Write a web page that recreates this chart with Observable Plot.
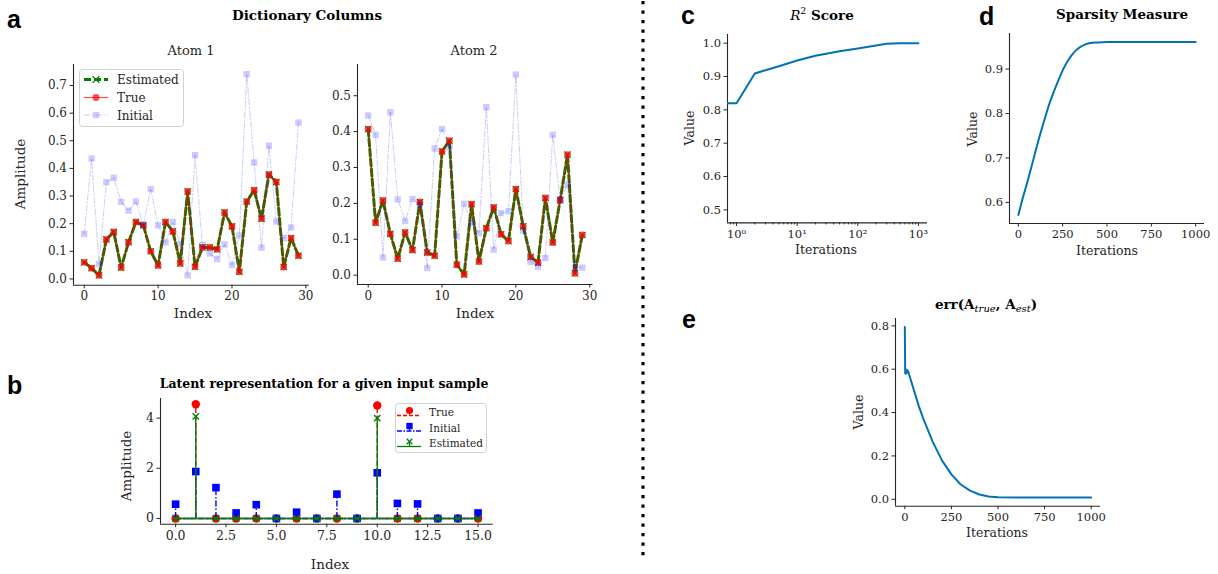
<!DOCTYPE html>
<html><head><meta charset="utf-8">
<script src="https://cdn.jsdelivr.net/npm/d3@7"></script>
<script src="https://cdn.jsdelivr.net/npm/@observablehq/plot@0.6"></script>
<style>
html,body{margin:0;padding:0;background:#fff;}
#root{position:relative;width:1218px;height:574px;overflow:hidden;background:#fff;}
#root svg{position:absolute;}
</style></head><body><div id="root"></div>
<script>
// ---------- DATA ----------
const atomIdx = [0,1,2,3,4,5,6,7,8,9,10,11,12,13,14,15,16,17,18,19,20,21,22,23,24,25,26,27,28,29];
const atom1True = [0.060,0.039,0.013,0.143,0.170,0.041,0.133,0.206,0.194,0.100,0.049,0.206,0.172,0.056,0.317,0.044,0.114,0.114,0.107,0.241,0.190,0.026,0.280,0.321,0.218,0.378,0.351,0.043,0.148,0.084];
const atom1Est  = [0.060,0.039,0.013,0.143,0.170,0.041,0.133,0.206,0.194,0.100,0.049,0.206,0.172,0.056,0.317,0.044,0.114,0.114,0.107,0.241,0.190,0.026,0.280,0.321,0.218,0.378,0.351,0.043,0.148,0.084];
const atom1Init = [0.163,0.436,0.053,0.350,0.366,0.279,0.247,0.280,0.197,0.325,0.194,0.132,0.206,0.127,0.013,0.448,0.123,0.092,0.072,0.125,0.050,0.157,0.741,0.421,0.113,0.482,0.208,0.147,0.186,0.566];
const atom2True = [0.407,0.146,0.208,0.115,0.046,0.119,0.070,0.204,0.063,0.054,0.345,0.375,0.029,0.002,0.198,0.038,0.131,0.189,0.114,0.095,0.240,0.136,0.051,0.035,0.215,0.091,0.209,0.336,0.005,0.112];
const atom2Est  = [0.407,0.146,0.208,0.115,0.046,0.119,0.070,0.204,0.063,0.054,0.345,0.375,0.029,0.002,0.198,0.038,0.131,0.189,0.114,0.095,0.240,0.136,0.051,0.035,0.215,0.091,0.209,0.336,0.005,0.112];
const atom2Init = [0.445,0.391,0.049,0.454,0.211,0.151,0.212,0.196,0.020,0.353,0.407,0.356,0.108,0.199,0.145,0.117,0.468,0.071,0.173,0.178,0.559,0.124,0.037,0.023,0.048,0.391,0.212,0.252,0.021,0.021];

const latentIdx  = [0,1,2,3,4,5,6,7,8,9,10,11,12,13,14,15];
const latentTrue = [0,4.55,0,0,0,0,0,0,0,0,4.50,0,0,0,0,0];
const latentInit = [0.57,1.87,1.23,0.22,0.55,0,0.25,0,0.97,0,1.82,0.60,0.58,0,0,0.22];
const latentEst  = [0,4.07,0,0,0,0,0,0,0,0,4.00,0,0,0,0,0];

const r2Iter  = [0,1,2,3,5,10,20,50,100,200,300,500,1000];
const r2Value = [0.820,0.820,0.909,0.919,0.931,0.948,0.962,0.976,0.984,0.993,0.998,1.000,1.000];

const spIter  = [0,25,50,75,100,125,150,175,200,225,250,275,300,325,350,375,400,450,500,750,1000];
const spValue = [0.572,0.610,0.645,0.682,0.720,0.756,0.790,0.822,0.849,0.874,0.897,0.916,0.931,0.942,0.950,0.955,0.958,0.960,0.961,0.961,0.961];

const errIter  = [0,2,5,9,14,20,25,50,75,100,150,200,250,300,350,400,450,500,600,1000];
const errValue = [0.795,0.580,0.600,0.580,0.595,0.585,0.570,0.500,0.430,0.370,0.265,0.178,0.115,0.068,0.040,0.022,0.013,0.009,0.008,0.008];

const atomXTicks = [0,10,20,30];
const atom1YTicks = [0,0.1,0.2,0.3,0.4,0.5,0.6,0.7];
const atom2YTicks = [0,0.1,0.2,0.3,0.4,0.5];
const latentXTicks = [0,2.5,5,7.5,10,12.5,15];
const latentYTicks = [0,2,4];
const r2XTicks = [1,10,100,1000];
const r2XTickLabels = ["10⁰","10¹","10²","10³"];
const r2XMinor = [0.8,0.9,2,3,4,5,6,7,8,9,20,30,40,50,60,70,80,90,200,300,400,500,600,700,800,900];
const r2YTicks = [0.5,0.6,0.7,0.8,0.9,1.0];
const iterTicks = [0,250,500,750,1000];
const spYTicks = [0.6,0.7,0.8,0.9];
const errYTicks = [0,0.2,0.4,0.6,0.8];

// ---------- STYLE ----------
const SERIF = "DejaVu Serif";
const SANS = "Liberation Sans";
const INK = "#262626";
const LINE = "#0173b2";
const root = document.getElementById("root");

function zip(xs, ys){ return xs.map((x,i)=>({x, y: ys[i]})); }

function panel({l, r, t, b, x, y, marks, fs}) {
  const ml = 50, mr = 14, mt = 10, mb = 30;
  const svg = Plot.plot({
    width: (r - l) + ml + mr, height: (b - t) + mt + mb,
    marginLeft: ml, marginRight: mr, marginTop: mt, marginBottom: mb,
    x, y,
    style: {fontFamily: SERIF, fontSize: fs + "px", color: INK, background: "none", overflow: "visible"},
    marks: [
      Plot.ruleX([x.domain[0]], {stroke: INK, strokeWidth: 1.1}),
      Plot.ruleY([y.domain[0]], {stroke: INK, strokeWidth: 1.1}),
      ...marks
    ]
  });
  svg.style.left = (l - ml) + "px";
  svg.style.top = (t - mt) + "px";
  root.appendChild(svg);
}

function atomMarks(tr, est, init) {
  return [
    Plot.line(est, {x: "x", y: "y", stroke: "#008000", strokeWidth: 3, strokeDasharray: "7,3"}),
    Plot.dot(est, {x: "x", y: "y", symbol: "times", stroke: "#008000", strokeWidth: 1.1, r: 3}),
    Plot.line(tr, {x: "x", y: "y", stroke: "red", strokeOpacity: 0.7, strokeWidth: 1.2}),
    Plot.dot(tr, {x: "x", y: "y", fill: "red", fillOpacity: 0.75, r: 3.4}),
    Plot.line(init, {x: "x", y: "y", stroke: "blue", strokeOpacity: 0.2, strokeWidth: 1, strokeDasharray: "6,2,1.5,2"}),
    Plot.dot(init, {x: "x", y: "y", symbol: "square", fill: "blue", fillOpacity: 0.2, r: 3.6})
  ];
}
const f1 = d3.format(".1f");
const plain = d => String(d);

// Panel a - Atom 1
panel({l: 73.3, r: 309, t: 63.5, b: 284.3, fs: 12,
  x: {domain: [-1.45, 30.45]}, y: {domain: [-0.023, 0.776]},
  marks: [
    Plot.axisX({ticks: atomXTicks, tickFormat: plain, tickSize: 3.5, tickPadding: 3, label: null}),
    Plot.axisY({ticks: atom1YTicks, tickFormat: f1, tickSize: 3.5, tickPadding: 3, label: null}),
    ...atomMarks(zip(atomIdx, atom1True), zip(atomIdx, atom1Est), zip(atomIdx, atom1Init))
  ]});
// Panel a - Atom 2
panel({l: 356.5, r: 592, t: 64, b: 284, fs: 12,
  x: {domain: [-1.45, 30.45]}, y: {domain: [-0.026, 0.587]},
  marks: [
    Plot.axisX({ticks: atomXTicks, tickFormat: plain, tickSize: 3.5, tickPadding: 3, label: null}),
    Plot.axisY({ticks: atom2YTicks, tickFormat: f1, tickSize: 3.5, tickPadding: 3, label: null}),
    ...atomMarks(zip(atomIdx, atom2True), zip(atomIdx, atom2Est), zip(atomIdx, atom2Init))
  ]});

// Panel b
const bTrue = zip(latentIdx, latentTrue), bInit = zip(latentIdx, latentInit), bEst = zip(latentIdx, latentEst);
panel({l: 160.3, r: 493, t: 398.3, b: 524, fs: 12.5,
  x: {domain: [-0.75, 15.75]}, y: {domain: [-0.2275, 4.78]},
  marks: [
    Plot.axisX({ticks: latentXTicks, tickFormat: f1, tickSize: 3.5, tickPadding: 3, label: null}),
    Plot.axisY({ticks: latentYTicks, tickFormat: plain, tickSize: 3.5, tickPadding: 3, label: null}),
    Plot.ruleX(bTrue, {x: "x", y1: 0, y2: "y", stroke: "red", strokeWidth: 1.4, strokeDasharray: "5,2.5"}),
    Plot.line(bTrue, {x: "x", y: () => 0, stroke: "red", strokeWidth: 1.4, strokeDasharray: "5,2.5"}),
    Plot.dot(bTrue, {x: "x", y: "y", fill: "red", r: 4.2}),
    Plot.ruleX(bInit, {x: "x", y1: 0, y2: "y", stroke: "blue", strokeWidth: 1.4, strokeDasharray: "6,2,1.5,2"}),
    Plot.line(bInit, {x: "x", y: () => 0, stroke: "blue", strokeWidth: 1.4, strokeDasharray: "6,2,1.5,2"}),
    Plot.dot(bInit, {x: "x", y: "y", symbol: "square", fill: "blue", r: 4.3}),
    Plot.ruleX(bEst, {x: "x", y1: 0, y2: "y", stroke: "#008000", strokeWidth: 1.4}),
    Plot.line(bEst, {x: "x", y: () => 0, stroke: "#008000", strokeWidth: 1.6}),
    Plot.dot(bEst, {x: "x", y: "y", symbol: "times", stroke: "#008000", strokeWidth: 1.4, r: 3})
  ]});

// Panel c
panel({l: 726.7, r: 926.7, t: 34.3, b: 222.7, fs: 11.5,
  x: {type: "log", domain: [0.71, 1413]}, y: {domain: [0.461, 1.026]},
  marks: [
    Plot.axisX({ticks: r2XMinor, tickFormat: () => "", tickSize: 2, label: null}),
    Plot.axisX({ticks: r2XTicks, tickFormat: d => r2XTickLabels[r2XTicks.indexOf(d)], tickSize: 3.5, tickPadding: 3, label: null}),
    Plot.axisY({ticks: r2YTicks, tickFormat: f1, tickSize: 3.5, tickPadding: 3, label: null}),
    Plot.line(zip(r2Iter, r2Value), {x: d => d.x === 0 ? 0.5 : d.x, y: "y", stroke: LINE, strokeWidth: 2, clip: true})
  ]});

// Panel d
panel({l: 1009, r: 1204, t: 33.3, b: 223.3, fs: 11.5,
  x: {domain: [-50, 1050]}, y: {domain: [0.5526, 0.98]},
  marks: [
    Plot.axisX({ticks: iterTicks, tickSize: 3.5, tickPadding: 3, label: null, tickFormat: plain}),
    Plot.axisY({ticks: spYTicks, tickFormat: f1, tickSize: 3.5, tickPadding: 3, label: null}),
    Plot.line(zip(spIter, spValue), {x: "x", y: "y", stroke: LINE, strokeWidth: 2, curve: "monotone-x"})
  ]});

// Panel e
panel({l: 895.3, r: 1100.3, t: 318.3, b: 506, fs: 11.5,
  x: {domain: [-50, 1050]}, y: {domain: [-0.032, 0.834]},
  marks: [
    Plot.axisX({ticks: iterTicks, tickSize: 3.5, tickPadding: 3, label: null, tickFormat: plain}),
    Plot.axisY({ticks: errYTicks, tickFormat: f1, tickSize: 3.5, tickPadding: 3, label: null}),
    Plot.line(zip(errIter, errValue), {x: "x", y: "y", stroke: LINE, strokeWidth: 2})
  ]});

// ---------- OVERLAY: titles, labels, legends, separator ----------
const ov = d3.create("svg").attr("width", 1218).attr("height", 574).style("left", "0px").style("top", "0px");
root.appendChild(ov.node());

function txt(s, x, y, o = {}) {
  const t = ov.append("text").attr("x", x).attr("y", y)
    .attr("font-family", o.family || SERIF).attr("font-size", o.size || 13)
    .attr("font-weight", o.weight || "normal").attr("fill", o.fill || INK)
    .attr("text-anchor", o.anchor || "middle");
  if (o.rotate) t.attr("transform", `rotate(-90 ${x} ${y})`).attr("dominant-baseline", "central");
  if (s != null) t.text(s);
  return t;
}

// separator
ov.append("line").attr("x1", 643).attr("x2", 643).attr("y1", 1).attr("y2", 556)
  .attr("stroke", "#000").attr("stroke-width", 3.2).attr("stroke-dasharray", "3.2 6.3");

// panel letters
[["a", 7, 28], ["b", 7, 394], ["c", 681, 24], ["d", 979, 25], ["e", 682, 328]].forEach(([s, x, y]) =>
  txt(s, x, y, {family: SANS, weight: "bold", size: 25, anchor: "start", fill: "#000"}));

// titles
txt("Dictionary Columns", 307, 20, {weight: "bold", size: 13.5, fill: "#000"});
txt("Atom 1", 191, 55, {size: 13});
txt("Atom 2", 474, 55, {size: 13});
txt("Latent representation for a given input sample", 324, 388, {weight: "bold", size: 12.5, fill: "#000"});
{
  const t = txt(null, 822, 20, {size: 13.5, fill: "#000"});
  t.append("tspan").attr("font-style", "italic").text("R");
  t.append("tspan").attr("font-size", 9.5).attr("dy", -6).text("2");
  t.append("tspan").attr("font-weight", "bold").attr("dy", 6).text(" Score");
}
txt("Sparsity Measure", 1122, 19, {weight: "bold", size: 13.5, fill: "#000"});
{
  const t = txt(null, 986, 309, {weight: "bold", size: 13.5, fill: "#000"});
  t.append("tspan").text("err(A");
  t.append("tspan").attr("font-style", "italic").attr("font-weight", "normal").attr("font-size", 10).attr("dy", 3).text("true");
  t.append("tspan").attr("dy", -3).text(", A");
  t.append("tspan").attr("font-style", "italic").attr("font-weight", "normal").attr("font-size", 10).attr("dy", 3).text("est");
  t.append("tspan").attr("dy", -3).text(")");
}

// axis labels
txt("Amplitude", 20, 174, {size: 13.5, rotate: true});
txt("Index", 193, 318, {size: 13.5});
txt("Index", 475, 318, {size: 13.5});
txt("Amplitude", 126, 466, {size: 13.5, rotate: true});
txt("Index", 330, 569, {size: 13.5});
txt("Value", 689, 128, {size: 12.5, rotate: true});
txt("Iterations", 826, 254, {size: 12.5});
txt("Value", 972, 129, {size: 12.5, rotate: true});
txt("Iterations", 1107, 255, {size: 12.5});
txt("Value", 858, 412, {size: 12.5, rotate: true});
txt("Iterations", 997, 537, {size: 12.5});

// legend a
ov.append("rect").attr("x", 79.5).attr("y", 69.5).attr("width", 104).attr("height", 57).attr("rx", 3)
  .attr("fill", "#fff").attr("fill-opacity", 0.85).attr("stroke", "#d0d0d0");
const sym = (type, size) => d3.symbol(type, size)();
function legLine(x1, x2, y, stroke, w, dash, op) {
  ov.append("line").attr("x1", x1).attr("x2", x2).attr("y1", y).attr("y2", y)
    .attr("stroke", stroke).attr("stroke-width", w).attr("stroke-dasharray", dash || null).attr("stroke-opacity", op == null ? 1 : op);
}
function legSym(type, size, x, y, fill, stroke, op) {
  ov.append("path").attr("d", sym(type, size)).attr("transform", `translate(${x},${y})`)
    .attr("fill", fill || "none").attr("stroke", stroke || "none").attr("stroke-width", 1.3).attr("opacity", op == null ? 1 : op);
}
legLine(84, 108, 79.5, "#008000", 3, "7,3");
legSym(d3.symbolTimes, 32, 96, 79.5, null, "#008000");
txt("Estimated", 117, 84, {size: 12, anchor: "start"});
legLine(84, 108, 97.5, "red", 1.2, null, 0.7);
legSym(d3.symbolCircle, 36, 96, 97.5, "red", null, 0.7);
txt("True", 117, 102, {size: 12, anchor: "start"});
legLine(84, 108, 115, "blue", 1, "6,2,1.5,2", 0.2);
legSym(d3.symbolSquare, 40, 96, 115, "blue", null, 0.2);
txt("Initial", 117, 119.5, {size: 12, anchor: "start"});

// legend b
ov.append("rect").attr("x", 395.5).attr("y", 403.5).attr("width", 91).attr("height", 49).attr("rx", 3)
  .attr("fill", "#fff").attr("fill-opacity", 0.85).attr("stroke", "#d0d0d0");
function stemHandle(y, color, dash, type, fill, stroke) {
  ov.append("line").attr("x1", 409.5).attr("x2", 409.5).attr("y1", y).attr("y2", y + 5)
    .attr("stroke", color).attr("stroke-width", 1.3).attr("stroke-dasharray", dash || null);
  legLine(397, 421, y + 5, color, 1.3, dash);
  legSym(type, type === d3.symbolTimes ? 22 : 40, 409.5, y, fill, stroke);
}
stemHandle(410.5, "red", "4,2", d3.symbolCircle, "red", null);
txt("True", 429, 415.5, {size: 10.5, anchor: "start"});
stemHandle(426, "blue", "5,1.5,1.5,1.5", d3.symbolSquare, "blue", null);
txt("Initial", 429, 431.5, {size: 10.5, anchor: "start"});
stemHandle(441.5, "#008000", null, d3.symbolTimes, null, "#008000");
txt("Estimated", 429, 446.5, {size: 10.5, anchor: "start"});
</script></body></html>
